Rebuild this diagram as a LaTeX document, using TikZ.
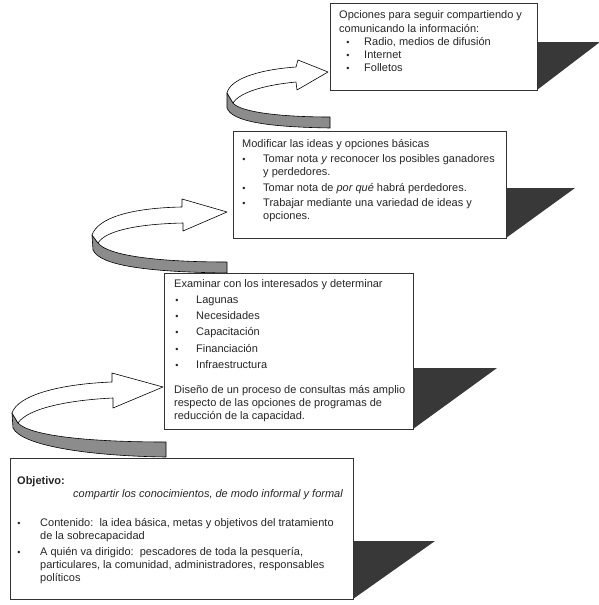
\documentclass[tikz,border=0pt]{standalone}
\usepackage{fontspec}
\setmainfont{Liberation Sans}
\begin{document}
\begin{tikzpicture}[x=1pt,y=-1pt,
  txt/.style={anchor=base west, inner sep=0pt, font=\fontsize{11}{13}\selectfont, text=black!85},
  bul/.style={anchor=base, inner sep=0pt, font=\fontsize{9}{11}\selectfont, text=black!85},
  boxst/.style={draw=black!80, line width=0.8pt, fill=white, anchor=north west, inner sep=0pt},
  shad/.style={fill=black!78},
  face/.style={draw=black, line width=0.6pt, fill=white, line join=round},
  band/.style={draw=black, line width=0.6pt, fill=black!45, line join=round}]
\useasboundingbox (0,0) rectangle (599,605);

% shadows
\fill[shad] (537,42) -- (600,42) -- (537,90) -- cycle;
\fill[shad] (506,188) -- (575,188) -- (506,238) -- cycle;
\fill[shad] (413,368) -- (497,368) -- (413,429) -- cycle;
\fill[shad] (353,541) -- (435,541) -- (353,599) -- cycle;

% ribbon arrow 1 (box2 -> box1)
\draw[band] (227,93) -- (227,108) .. controls (232,122) and (270,127) .. (330,128) -- (330,117) .. controls (280,117) and (240,112) .. (233,103) -- cycle;
\draw[face] (227,93) .. controls (230,80) and (255,70) .. (296,67) -- (298,60) -- (328,72) -- (297,90) -- (296,82) .. controls (265,85) and (240,92) .. (233,103) -- cycle;

% ribbon arrow 2 (box3 -> box2)
\draw[band] (92,235) -- (93,250) .. controls (100,266) and (150,272) .. (227,273) -- (227,262) .. controls (160,262) and (108,256) .. (98,243) -- cycle;
\draw[face] (92,235) .. controls (98,218) and (130,208) .. (182,207) -- (182,199) -- (227,212) -- (183,231) -- (183,223) .. controls (140,224) and (106,230) .. (98,243) -- cycle;

% ribbon arrow 3 (box4 -> box3)
\draw[band] (12,413) -- (13,428) .. controls (22,446) and (90,456) .. (166,457) -- (166,442) .. controls (90,442) and (30,436) .. (18,423) -- cycle;
\draw[face] (12,413) .. controls (18,395) and (60,384) .. (112,382) -- (112,373) -- (163,387) -- (113,408) -- (113,398) .. controls (70,400) and (28,408) .. (18,423) -- cycle;

% boxes
\node[boxst, minimum width=207pt, minimum height=87pt] (box1) at (330,3) {};
\node[boxst, minimum width=273pt, minimum height=107pt] (box2) at (233,131) {};
\node[boxst, minimum width=249pt, minimum height=156pt] (box3) at (164,273) {};
\node[boxst, minimum width=343pt, minimum height=141pt] (box4) at (10,458) {};

% box 1 text
\node[txt] (t11) at (339,19) {Opciones para seguir compartiendo y};
\node[txt] (t12) at (339,32) {comunicando la información:};
\node[bul] (b11) at (348,45) {•}; \node[txt] (t13) at (364,45) {Radio, medios de difusión};
\node[bul] (b12) at (348,58) {•}; \node[txt] (t14) at (364,58) {Internet};
\node[bul] (b13) at (348,71) {•}; \node[txt] (t15) at (364,71) {Folletos};

% box 2 text
\node[txt] (t21) at (242,147) {Modificar las ideas y opciones básicas};
\node[bul] (b21) at (244,162) {•}; \node[txt] (t22) at (263,162) {Tomar nota \textit{y} reconocer los posibles ganadores};
\node[txt] (t23) at (263,175) {y perdedores.};
\node[bul] (b22) at (244,191) {•}; \node[txt] (t24) at (263,191) {Tomar nota de \textit{por qué} habrá perdedores.};
\node[bul] (b23) at (244,206) {•}; \node[txt] (t25) at (263,206) {Trabajar mediante una variedad de ideas y};
\node[txt] (t26) at (263,219) {opciones.};

% box 3 text
\node[txt] (t31) at (174,287) {Examinar con los interesados y determinar};
\node[bul] (b31) at (177,303) {•}; \node[txt] (t32) at (196,303) {Lagunas};
\node[bul] (b32) at (177,319) {•}; \node[txt] (t33) at (196,319) {Necesidades};
\node[bul] (b33) at (177,335) {•}; \node[txt] (t34) at (196,335) {Capacitación};
\node[bul] (b34) at (177,352) {•}; \node[txt] (t35) at (196,352) {Financiación};
\node[bul] (b35) at (177,368) {•}; \node[txt] (t36) at (196,368) {Infraestructura};
\node[txt] (t37) at (174,393) {Diseño de un proceso de consultas más amplio};
\node[txt] (t38) at (174,406) {respecto de las opciones de programas de};
\node[txt] (t39) at (174,419) {reducción de la capacidad.};

% box 4 text
\node[txt] (t41) at (17,484) {\textbf{Objetivo:}};
\node[txt] (t42) at (73,497) {\textit{compartir los conocimientos, de modo informal y formal}};
\node[bul] (b41) at (19,526) {•}; \node[txt] (t43) at (40,526) {Contenido:\ \ la idea básica, metas y objetivos del tratamiento};
\node[txt] (t44) at (40,539) {de la sobrecapacidad};
\node[bul] (b42) at (19,555) {•}; \node[txt] (t45) at (40,555) {A quién va dirigido:\ \ pescadores de toda la pesquería,};
\node[txt] (t46) at (40,568) {particulares, la comunidad, administradores, responsables};
\node[txt] (t47) at (40,581) {políticos};
\end{tikzpicture}
\end{document}
